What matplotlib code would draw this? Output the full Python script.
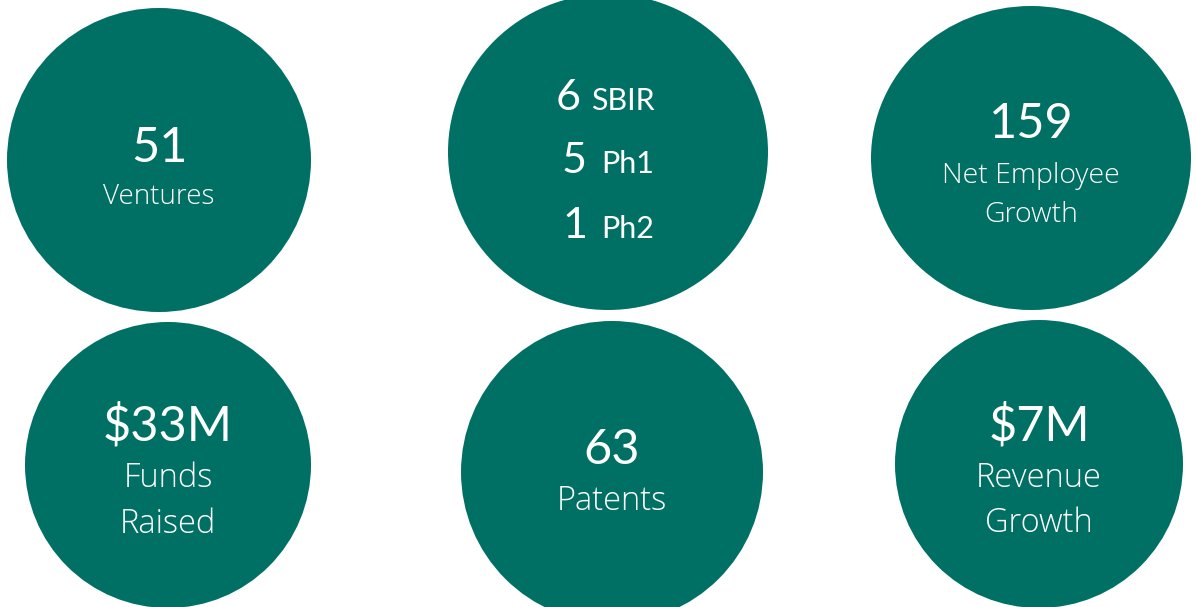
import matplotlib.pyplot as plt
from matplotlib.patches import Ellipse

TEAL = '#017064'
FONT = ['Lato', 'DejaVu Sans']
CAP_FONT = ['Open Sans', 'DejaVu Sans']

# headline figures and captions, one per circle (circle 2 holds the SBIR breakdown)
values = ['51', None, '159', '$33M', '63', '$7M']
captions = [['Ventures'], None, ['Net Employee', 'Growth'],
            ['Funds', 'Raised'], ['Patents'], ['Revenue', 'Growth']]
sbir_counts = ['6', '5', '1']
sbir_labels = ['SBIR', 'Ph1', 'Ph2']

# layout (pixels, y down)
centers = [(159, 160), (608, 152), (1031, 158), (168, 465), (612, 472), (1039, 464)]
radii = [(152, 152), (160, 158), (160, 152), (143, 143), (151, 151), (144, 144)]
value_base = [162, None, 138, 440, 464, 440]
caption_base = [[204], None, [183, 222], [487, 533], [510], [487, 532]]
cap_size = [20, None, 20.5, 23.5, 23.5, 23.5]
sbir_base = [110, 173, 238]
sbir_x = [(581, 591), (587, 601), (587, 601)]

fig = plt.figure(figsize=(11.96, 6.07), dpi=100)
ax = fig.add_axes([0, 0, 1, 1])
ax.set_xlim(0, 1196)
ax.set_ylim(607, 0)
ax.axis('off')

for i, (c, r) in enumerate(zip(centers, radii)):
    ax.add_patch(Ellipse(c, 2 * r[0], 2 * r[1], color=TEAL, lw=0))
    if values[i] is None:
        continue
    ax.text(c[0], value_base[i], values[i], color='white', fontsize=35,
            family=FONT, ha='center', va='baseline')
    for cap, yb in zip(captions[i], caption_base[i]):
        ax.text(c[0], yb, cap, color='white', fontsize=cap_size[i], family=CAP_FONT,
                weight='light', ha='center', va='baseline')

for n, lab, yb, (xn, xl) in zip(sbir_counts, sbir_labels, sbir_base, sbir_x):
    ax.text(xn, yb, n, color='white', fontsize=31, family=FONT,
            ha='right', va='baseline')
    ax.text(xl, yb, lab, color='white', fontsize=22, family=FONT,
            ha='left', va='baseline')

fig.savefig('out.png', dpi=100)
